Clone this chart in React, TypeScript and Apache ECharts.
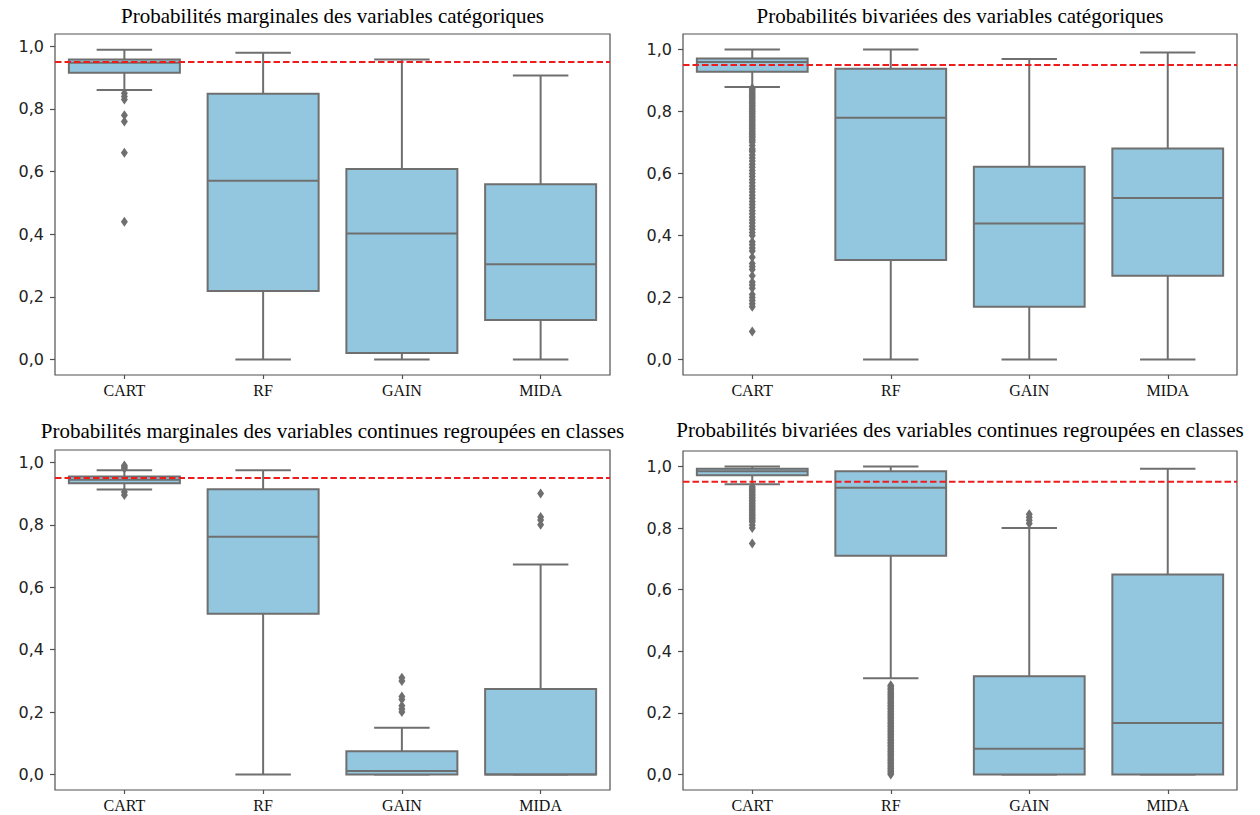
import React, { useEffect, useRef } from "react";
import * as echarts from "echarts";

const categories = ["CART", "RF", "GAIN", "MIDA"];
const yTicks = [0, 0.2, 0.4, 0.6, 0.8, 1.0];
const threshold = 0.95;

const titles = [
  "Probabilités marginales des variables catégoriques",
  "Probabilités bivariées des variables catégoriques",
  "Probabilités marginales des variables continues regroupées en classes",
  "Probabilités bivariées des variables continues regroupées en classes",
];

// box stats: [lower whisker, Q1, median, Q3, upper whisker] per category (CART, RF, GAIN, MIDA)
const boxesMargCat = [
  [0.861, 0.916, 0.948, 0.958, 0.989],
  [0.0, 0.219, 0.571, 0.849, 0.98],
  [0.0, 0.021, 0.402, 0.608, 0.958],
  [0.0, 0.126, 0.304, 0.56, 0.907],
];
const outliersMargCat = {
  CART: [0.85, 0.84, 0.83, 0.78, 0.76, 0.66, 0.44],
  RF: [] as number[],
  GAIN: [] as number[],
  MIDA: [] as number[],
};

const boxesBivCat = [
  [0.879, 0.928, 0.96, 0.971, 1.0],
  [0.0, 0.321, 0.78, 0.938, 1.0],
  [0.0, 0.17, 0.439, 0.622, 0.969],
  [0.0, 0.27, 0.521, 0.681, 0.99],
];
const outliersBivCat = {
  CART: [
    0.875, 0.87, 0.865, 0.86, 0.855, 0.85, 0.845, 0.84, 0.835, 0.83, 0.825, 0.82, 0.815, 0.81, 0.805, 0.8,
    0.795, 0.79, 0.785, 0.78, 0.775, 0.77, 0.765, 0.76, 0.755, 0.75, 0.745, 0.74, 0.735, 0.73, 0.725, 0.72,
    0.715, 0.71, 0.705, 0.7, 0.69, 0.68, 0.675, 0.67, 0.66, 0.65, 0.64, 0.63, 0.62, 0.61, 0.6, 0.59, 0.58,
    0.57, 0.56, 0.55, 0.54, 0.53, 0.52, 0.51, 0.5, 0.49, 0.48, 0.47, 0.46, 0.45, 0.44, 0.43, 0.42, 0.41, 0.4,
    0.38, 0.37, 0.36, 0.35, 0.33, 0.31, 0.3, 0.29, 0.27, 0.25, 0.24, 0.23, 0.21, 0.2, 0.19, 0.18, 0.17, 0.09,
  ],
  RF: [] as number[],
  GAIN: [] as number[],
  MIDA: [] as number[],
};

const boxesMargCont = [
  [0.913, 0.933, 0.944, 0.955, 0.975],
  [0.0, 0.515, 0.762, 0.914, 0.975],
  [0.0, 0.0, 0.011, 0.075, 0.15],
  [0.0, 0.0, 0.0, 0.274, 0.673],
];
const outliersMargCont = {
  CART: [0.99, 0.985, 0.98, 0.905, 0.895],
  RF: [] as number[],
  GAIN: [0.31, 0.3, 0.25, 0.24, 0.22, 0.21, 0.2],
  MIDA: [0.9, 0.825, 0.815, 0.8],
};

const boxesBivCont = [
  [0.942, 0.971, 0.984, 0.992, 1.0],
  [0.313, 0.71, 0.931, 0.984, 1.0],
  [0.0, 0.0, 0.084, 0.319, 0.8],
  [0.0, 0.0, 0.167, 0.649, 0.992],
];
const outliersBivCont = {
  CART: [
    0.935, 0.93, 0.925, 0.92, 0.915, 0.91, 0.905, 0.9, 0.895, 0.89, 0.885, 0.88, 0.875, 0.87, 0.865, 0.86,
    0.855, 0.85, 0.845, 0.84, 0.835, 0.83, 0.825, 0.82, 0.81, 0.8, 0.75,
  ],
  RF: [
    0.29, 0.285, 0.28, 0.275, 0.27, 0.265, 0.26, 0.255, 0.25, 0.245, 0.24, 0.235, 0.23, 0.225, 0.22, 0.215,
    0.21, 0.205, 0.2, 0.195, 0.19, 0.185, 0.18, 0.175, 0.17, 0.165, 0.16, 0.155, 0.15, 0.145, 0.14, 0.135,
    0.13, 0.125, 0.12, 0.115, 0.11, 0.105, 0.1, 0.095, 0.09, 0.085, 0.08, 0.075, 0.07, 0.065, 0.06, 0.055,
    0.05, 0.045, 0.04, 0.035, 0.03, 0.025, 0.02, 0.015, 0.01, 0.005, 0.0,
  ],
  GAIN: [0.845, 0.835, 0.825, 0.815],
  MIDA: [] as number[],
};

const yRanges = [
  [-0.0495, 1.0395],
  [-0.05, 1.05],
  [-0.0495, 1.0395],
  [-0.05, 1.05],
];

const panels = [
  { boxes: boxesMargCat, outliers: outliersMargCat },
  { boxes: boxesBivCat, outliers: outliersBivCat },
  { boxes: boxesMargCont, outliers: outliersMargCont },
  { boxes: boxesBivCont, outliers: outliersBivCont },
];

const layout = [
  { left: 55, top: 34, width: 555, height: 341, titleY: 26 },
  { left: 683, top: 34, width: 554, height: 341, titleY: 26 },
  { left: 55, top: 450, width: 555, height: 340, titleY: 441 },
  { left: 683, top: 451, width: 554, height: 339, titleY: 440 },
];

const BOX_FILL = "#93C7DF";
const LINE = "#6F6F6F";
const FRAME = "#505050";
const RED = "#EE1C1C";

function renderBox(params: any, api: any) {
  const c = api.value(0);
  const lo = api.coord([c, api.value(1)]);
  const q1 = api.coord([c, api.value(2)]);
  const med = api.coord([c, api.value(3)]);
  const q3 = api.coord([c, api.value(4)]);
  const hi = api.coord([c, api.value(5)]);
  const band = api.size([1, 0])[0];
  const hw = band * 0.4;
  const cw = band * 0.2;
  const x = lo[0];
  const ls = { stroke: LINE, lineWidth: 2, fill: "none" };
  return {
    type: "group",
    children: [
      { type: "line", shape: { x1: x, y1: q1[1], x2: x, y2: lo[1] }, style: ls },
      { type: "line", shape: { x1: x, y1: q3[1], x2: x, y2: hi[1] }, style: ls },
      { type: "line", shape: { x1: x - cw, y1: lo[1], x2: x + cw, y2: lo[1] }, style: ls },
      { type: "line", shape: { x1: x - cw, y1: hi[1], x2: x + cw, y2: hi[1] }, style: ls },
      {
        type: "rect",
        shape: { x: x - hw, y: q3[1], width: 2 * hw, height: q1[1] - q3[1] },
        style: { fill: BOX_FILL, stroke: LINE, lineWidth: 2 },
      },
      { type: "line", shape: { x1: x - hw, y1: med[1], x2: x + hw, y2: med[1] }, style: ls },
    ],
  };
}

function renderThreshold(params: any, api: any) {
  const cs = params.coordSys;
  const y = api.coord([0, api.value(1)])[1];
  return {
    type: "line",
    shape: { x1: cs.x, y1: y, x2: cs.x + cs.width, y2: y },
    style: { stroke: RED, lineWidth: 2, lineDash: [6.5, 3], fill: "none" },
  };
}

export default function App() {
  const ref = useRef<HTMLDivElement>(null);

  useEffect(() => {
    if (!ref.current) return;
    const chart = echarts.init(ref.current, undefined, { renderer: "svg" });

    const grid: any[] = [];
    const xAxis: any[] = [];
    const yAxis: any[] = [];
    const series: any[] = [];
    const graphic: any[] = [];

    panels.forEach((p, i) => {
      const L = layout[i];
      grid.push({
        left: L.left,
        top: L.top,
        width: L.width,
        height: L.height,
        show: true,
        borderColor: FRAME,
        borderWidth: 1.2,
        backgroundColor: "#ffffff",
      });
      xAxis.push({
        type: "category",
        gridIndex: i,
        position: "bottom",
        data: categories,
        boundaryGap: true,
        axisLine: { show: false, onZero: false },
        axisTick: { show: true, alignWithLabel: true, length: 4, lineStyle: { color: FRAME, width: 1.2 } },
        axisLabel: {
          margin: 7,
          color: "#111",
          fontFamily: "Liberation Serif",
          fontSize: 16,
        },
        splitLine: { show: false },
      });
      yAxis.push({
        type: "value",
        gridIndex: i,
        position: "left",
        min: yRanges[i][0],
        max: yRanges[i][1],
        axisLine: { show: false, onZero: false },
        axisTick: {
          show: true,
          length: 5,
          customValues: yTicks,
          lineStyle: { color: FRAME, width: 1.2 },
        },
        axisLabel: {
          customValues: yTicks,
          margin: 11,
          color: "#222",
          fontFamily: "DejaVu Sans",
          fontSize: 16,
          formatter: (v: number) => v.toFixed(1).replace(".", ","),
        },
        splitLine: { show: false },
      });
      series.push({
        type: "custom",
        xAxisIndex: i,
        yAxisIndex: i,
        renderItem: renderBox,
        encode: { x: 0, y: [1, 2, 3, 4, 5] },
        data: p.boxes.map((b, k) => [k, ...b]),
        z: 2,
      });
      const pts: number[][] = [];
      categories.forEach((c, k) => {
        (p.outliers as any)[c].forEach((v: number) => pts.push([k, v]));
      });
      series.push({
        type: "scatter",
        xAxisIndex: i,
        yAxisIndex: i,
        symbol: "diamond",
        symbolSize: [7, 10],
        itemStyle: { color: LINE, opacity: 1 },
        data: pts,
        z: 3,
      });
      series.push({
        type: "custom",
        xAxisIndex: i,
        yAxisIndex: i,
        renderItem: renderThreshold,
        encode: { x: 0, y: 1 },
        data: [[0, threshold]],
        z: 4,
        silent: true,
      });
      graphic.push({
        type: "text",
        x: L.left + L.width / 2,
        y: L.titleY,
        style: {
          text: titles[i],
          align: "center",
          verticalAlign: "bottom",
          textAlign: "center",
          textVerticalAlign: "bottom",
          fontFamily: "Liberation Serif",
          fontSize: 21,
          fill: "#000",
        },
      });
    });

    chart.setOption({
      animation: false,
      backgroundColor: "#ffffff",
      grid,
      xAxis,
      yAxis,
      series,
      graphic,
    });

    return () => chart.dispose();
  }, []);

  return (
    <div
      ref={ref}
      style={{ position: "fixed", left: 0, top: 0, width: 1260, height: 815 }}
    />
  );
}
